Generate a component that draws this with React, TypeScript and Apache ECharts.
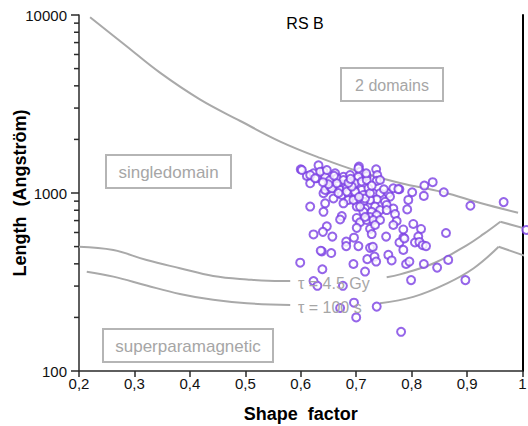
import React, { useEffect, useRef } from "react";
import * as echarts from "echarts";

// ---- scatter data: shape factor vs grain length (Angström) ----
const shapeFactor = [
  0.600, 0.632, 0.611, 0.617, 0.623, 0.641, 0.644, 0.629, 0.653, 0.662,
  0.668, 0.677, 0.689, 0.692, 0.705, 0.707, 0.704, 0.719, 0.736, 0.738,
  0.737, 0.743, 0.647, 0.659, 0.671, 0.683, 0.695, 0.710, 0.722, 0.641,
  0.674, 0.686, 0.698, 0.713, 0.731, 0.743, 0.758, 0.767, 0.778, 0.801,
  0.823, 0.838, 0.858, 0.822, 0.794, 0.761, 0.752, 0.737, 0.725, 0.713,
  0.701, 0.686, 0.644, 0.617, 0.641, 0.701, 0.716, 0.734, 0.743, 0.755,
  0.767, 0.755, 0.792, 0.770, 0.728, 0.713, 0.725, 0.737, 0.701, 0.674,
  0.671, 0.707, 0.719, 0.731, 0.743, 0.773, 0.701, 0.725, 0.734, 0.767,
  0.803, 0.817, 0.785, 0.647, 0.623, 0.640, 0.657, 0.728, 0.754, 0.785,
  0.812, 0.862, 0.696, 0.682, 0.682, 0.704, 0.725, 0.730, 0.778, 0.787,
  0.806, 0.814, 0.820, 0.826, 0.785, 0.638, 0.655, 0.636, 0.758, 0.720,
  0.733, 0.736, 0.764, 0.790, 0.796, 0.822, 0.846, 0.866, 0.695, 0.599,
  0.639, 0.716, 0.799, 0.897, 0.623, 0.630, 0.676, 0.696, 0.671, 0.737,
  0.700, 0.781, 0.906, 0.966, 1.007, 0.602, 0.617, 0.635, 0.626, 0.647,
  0.665, 0.677, 0.704, 0.698, 0.710, 0.719, 0.644, 0.653, 0.683, 0.698,
  0.716, 0.659, 0.677, 0.695, 0.707, 0.716, 0.656, 0.665, 0.692, 0.725,
  0.776, 0.650, 0.686, 0.668, 0.705, 0.728, 0.750, 0.690, 0.660, 0.640,
  0.718,
];
const lengthA = [
  1360, 1431, 1246, 1134, 1290, 1317, 1234, 1210, 1183, 1290,
  1134, 1234, 1262, 1160, 1406, 1317, 1234, 1246, 1360, 1262,
  1170, 1183, 1040, 1063, 1040, 1063, 1087, 1040, 1063, 997,
  975, 997, 997, 975, 997, 997, 997, 1063, 1050, 1010,
  1101, 1150, 1010, 963, 914, 954, 893, 920, 914, 893,
  893, 914, 875, 839, 784, 839, 818, 839, 802, 857,
  818, 802, 809, 761, 784, 784, 733, 752, 724, 742,
  710, 685, 705, 705, 705, 696, 637, 629, 661, 661,
  670, 628, 624, 650, 585, 605, 569, 588, 569, 561,
  569, 596, 561, 533, 503, 503, 492, 498, 527, 555,
  527, 531, 509, 503, 479, 470, 460, 474, 449, 425,
  439, 412, 418, 399, 412, 399, 381, 421, 399, 406,
  373, 362, 324, 324, 320, 301, 301, 242, 226, 230,
  200, 166, 848, 889, 620, 1346, 1262, 1317, 1210, 1346,
  1210, 1183, 1375, 1134, 1160, 1183, 1040, 1087, 1018, 1018,
  931, 931, 875, 914, 839, 733, 1063, 1134, 1087, 997,
  1052, 1120, 1140, 1000, 950, 1100, 1050, 1200, 1250, 1150,
  1290,
];

// ---- single domain / two domain boundary ----
const boundaryX = [0.220, 0.283, 0.346, 0.418, 0.491, 0.563, 0.635, 0.707, 0.779, 0.857, 0.924, 0.992];
const boundaryL = [9707, 6785, 4742, 3358, 2538, 1946, 1574, 1313, 1138, 1009, 879, 774];

// ---- relaxation time tau = 4.5 Gy ----
const tauGyLeftX = [0.200, 0.262, 0.322, 0.382, 0.442, 0.503, 0.563, 0.581];
const tauGyLeftL = [499, 478, 420, 378, 342, 327, 320, 320];
const tauGyRightX = [0.755, 0.779, 0.840, 0.900, 0.930, 0.960];
const tauGyRightL = [336, 349, 403, 510, 589, 690];
const tauGyTailX = [0.960, 1.010];
const tauGyTailL = [690, 624];

// ---- relaxation time tau = 100 s ----
const tauSLeftX = [0.214, 0.262, 0.322, 0.382, 0.442, 0.503, 0.581];
const tauSLeftL = [361, 339, 302, 271, 251, 240, 235];
const tauSRightX = [0.743, 0.803, 0.864, 0.912, 0.957];
const tauSRightL = [240, 261, 311, 378, 499];
const tauSTailX = [0.957, 1.009];
const tauSTailL = [499, 439];

// ---- axis ticks ----
const xTicks = [0.2, 0.3, 0.4, 0.5, 0.6, 0.7, 0.8, 0.9, 1];
const yMinorTicks = [200, 300, 400, 500, 600, 700, 800, 900, 2000, 3000, 4000, 5000, 6000, 7000, 8000, 9000];

const zip = (xs: number[], ys: number[]) => xs.map((x, i) => [x, ys[i]]);

const FONT = "'Liberation Sans', Arial, Helvetica, sans-serif";
const CURVE = "#a9a9a9";
const BOXTEXT = "#a6a6a6";
const BOXLINE = "#b5b5b5";
const PURPLE = "#7b3fe4";
const AXIS = "#2a2a2a";

function curve(xs: number[], ys: number[], smooth: boolean | number) {
  return {
    type: "line",
    data: zip(xs, ys),
    showSymbol: false,
    symbol: "none",
    smooth,
    clip: false,
    silent: true,
    z: 2,
    lineStyle: { color: CURVE, width: 2 },
  };
}

function textEl(text: string, x: number, y: number, size: number, color: string, bold = false, align = "center") {
  return {
    type: "text",
    x,
    y,
    z: 10,
    style: {
      text,
      fill: color,
      font: `${bold ? "bold " : ""}${size}px ${FONT}`,
      align,
      verticalAlign: "middle",
      textAlign: align,
      textVerticalAlign: "middle",
    },
  };
}

function boxEl(x: number, y: number, w: number, h: number) {
  return {
    type: "rect",
    z: 9,
    shape: { x, y, width: w, height: h },
    style: { fill: "rgba(0,0,0,0)", stroke: BOXLINE, lineWidth: 2 },
  };
}

export default function App() {
  const ref = useRef<HTMLDivElement>(null);

  useEffect(() => {
    if (!ref.current) return;
    const chart = echarts.init(ref.current, null, { renderer: "svg" });

    chart.setOption({
      animation: false,
      backgroundColor: "#ffffff",
      textStyle: { fontFamily: FONT },
      grid: { left: 79, right: 5.5, top: 15, bottom: 55, containLabel: false, outerBoundsMode: "none" },
      xAxis: {
        type: "value",
        min: xTicks[0],
        max: xTicks[xTicks.length - 1],
        interval: 0.1,
        name: "Shape  factor",
        nameLocation: "middle",
        nameGap: 34,
        nameMoveOverlap: false,
        nameTextStyle: { fontFamily: FONT, fontSize: 18, fontWeight: "bold", color: "#000" },
        axisLine: { onZero: false, lineStyle: { color: AXIS, width: 1.5 } },
        axisTick: { show: true, inside: false, length: 6, lineStyle: { color: AXIS, width: 1.5 } },
        axisLabel: {
          fontFamily: FONT,
          fontSize: 15,
          color: "#111",
          margin: 5,
          formatter: (v: number) => (Math.abs(v - 1) < 1e-9 ? "1" : v.toFixed(1).replace(".", ",")),
        },
        splitLine: { show: false },
      },
      yAxis: [
        {
          type: "log",
          logBase: 10,
          min: 100,
          max: 10000,
          name: "Length  (Angström)",
          nameLocation: "middle",
          nameGap: 50,
          nameRotate: 90,
          nameMoveOverlap: false,
          nameTextStyle: { fontFamily: FONT, fontSize: 18, fontWeight: "bold", color: "#000" },
          axisLine: { show: true, onZero: false, lineStyle: { color: AXIS, width: 1.5 } },
          axisTick: { show: true, inside: false, length: 8, lineStyle: { color: AXIS, width: 1.5 } },
          axisLabel: {
            fontFamily: FONT,
            fontSize: 15,
            color: "#111",
            margin: 12,
            formatter: (v: number) => String(Math.round(v)),
          },
          splitLine: { show: false },
        },
        {
          type: "log",
          logBase: 10,
          min: 100,
          max: 10000,
          position: "right",
          axisLine: { show: true, onZero: false, lineStyle: { color: "#000", width: 2 } },
          axisTick: { show: false },
          axisLabel: { show: false },
          splitLine: { show: false },
        },
      ],
      series: [
        curve(boundaryX, boundaryL, 0.4),
        curve(tauGyLeftX, tauGyLeftL, 0.4),
        curve(tauGyRightX, tauGyRightL, 0.4),
        curve(tauGyTailX, tauGyTailL, false),
        curve(tauSLeftX, tauSLeftL, 0.4),
        curve(tauSRightX, tauSRightL, 0.4),
        curve(tauSTailX, tauSTailL, false),
        {
          // minor ticks of the log axis (2..9 × each decade)
          type: "custom",
          silent: true,
          clip: false,
          z: 3,
          data: yMinorTicks.map((v) => [xTicks[0], v]),
          renderItem: (params: any, api: any) => {
            const p = api.coord([api.value(0), api.value(1)]);
            return {
              type: "line",
              shape: { x1: p[0] - 5, y1: p[1], x2: p[0], y2: p[1] },
              style: { stroke: AXIS, lineWidth: 1.5 },
            };
          },
        },
        {
          type: "scatter",
          data: zip(shapeFactor, lengthA),
          symbol: "emptyCircle",
          symbolSize: 8,
          clip: false,
          z: 5,
          itemStyle: { color: PURPLE, borderColor: PURPLE, borderWidth: 1.1 },
        },
      ],
      graphic: [
        textEl("RS B", 305, 23, 16, "#000"),
        boxEl(341, 68, 102, 33),
        textEl("2 domains", 392, 85, 16, BOXTEXT),
        boxEl(106, 155, 125, 33),
        textEl("singledomain", 168.5, 172, 17, BOXTEXT),
        boxEl(103, 329, 170, 33),
        textEl("superparamagnetic", 188, 346, 17, BOXTEXT),
        textEl("\u03c4 = 4.5 Gy", 298, 283, 16, BOXTEXT, false, "left"),
        textEl("\u03c4 = 100 s", 298, 307, 16, BOXTEXT, false, "left"),
      ],
    });

    return () => chart.dispose();
  }, []);

  return (
    <div
      ref={ref}
      style={{ position: "fixed", left: 0, top: 0, width: 528, height: 426, background: "#fff" }}
    />
  );
}
